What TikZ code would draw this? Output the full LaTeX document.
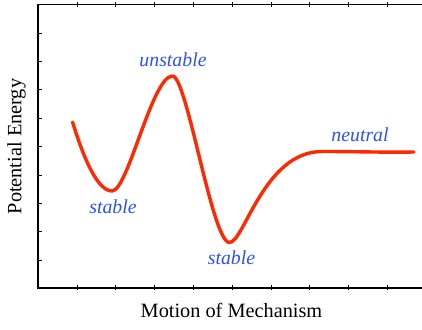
\documentclass[tikz,border=0pt]{standalone}
\usepackage{fontspec}
\setmainfont{Liberation Serif}
\definecolor{curvered}{RGB}{255,40,0}
\definecolor{lblblue}{RGB}{45,80,255}
\tikzset{
  axisline/.style={black, line width=1.3pt},
  tickmark/.style={black, line width=0.8pt},
  energy/.style={curvered, line width=3.4pt, line cap=round, line join=round},
  statelabel/.style={lblblue, font=\fontsize{19.8}{22}\selectfont\itshape, inner sep=0pt},
  axislabel/.style={black, font=\fontsize{20.3}{23}\selectfont, inner sep=0pt}
}
\begin{document}
\begin{tikzpicture}[x=1pt,y=-1pt]
\useasboundingbox (0,0) rectangle (422,329);
% axes
\coordinate (tl) at (38,4.3);
\coordinate (tr) at (422,4.3);
\coordinate (bl) at (38,288);
\coordinate (br) at (422,288);
\draw[axisline] (tr) -- (tl) -- (bl) -- (br);
% ticks
\foreach \y in {33,61.4,89.8,118.2,146.6,175,203.4,231.8,260.2}
  \draw[tickmark] (38,\y) -- (41.5,\y);
\foreach \x in {77,115.8,154.6,193.4,232.2,271,309.8,348.6,387.4}{
  \draw[tickmark] (\x,2.5) -- (\x,7);
  \draw[tickmark] (\x,285) -- (\x,289.5);
}
% energy curve
\draw[energy] (72.5,122)
  .. controls (80,146) and (95,191) .. (112,191)
  .. controls (128,191) and (152,76) .. (172.5,76)
  .. controls (187,76) and (212,242.5) .. (229.5,242.5)
  .. controls (244,242.5) and (264,151.5) .. (322,151.5)
  .. controls (360,151.5) and (380,152.5) .. (414,152);
% labels
\node[statelabel] (unst) at (173,60) {unstable};
\node[statelabel] (st1) at (113,207) {stable};
\node[statelabel] (st2) at (231.5,258) {stable};
\node[statelabel] (neut) at (360,134.5) {neutral};
\node[axislabel] (xl) at (231.5,310) {Motion of Mechanism};
\node[axislabel, rotate=90] (yl) at (16.5,146.5) {Potential Energy};
\end{tikzpicture}
\end{document}
